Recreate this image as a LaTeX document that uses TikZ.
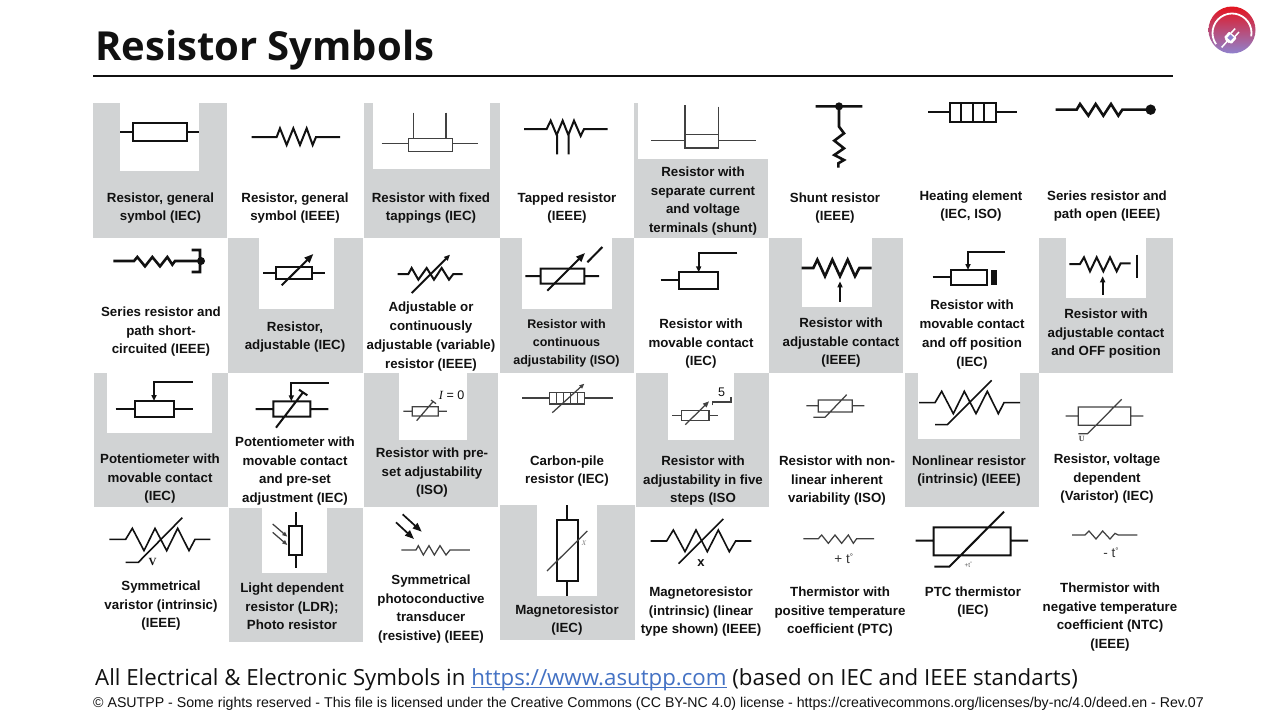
\documentclass[tikz,border=0pt]{standalone}
\usepackage{fontspec}
\setmainfont{Liberation Sans}
\newfontfamily\opensansfam{Open Sans}
\newfontfamily\serifam{Liberation Serif}
\usetikzlibrary{arrows.meta}
\definecolor{cellgray}{HTML}{D1D3D4}
\definecolor{linkblue}{HTML}{4472C4}
\definecolor{ink}{HTML}{111111}
\definecolor{logored}{HTML}{E4141F}
\definecolor{logomid}{HTML}{C5405C}
\definecolor{logolav}{HTML}{8F82CE}
\tikzset{
  z/.style 2 args={shift={(#1,#2)},x=.33333pt,y=-.33333pt},
  sym/.style={draw=ink,line width=2pt,line join=miter},
  thin sym/.style={draw=ink!80,line width=1.25pt,line join=miter},
  heavy/.style={draw=ink,line width=2.6pt,line join=miter},
  big tip/.style={-{Triangle[length=9pt,width=7pt]}},
  mid tip/.style={-{Triangle[length=6pt,width=5pt]}},
  small tip/.style={-{Triangle[length=5pt,width=4pt]}},
  captxt/.style={text=ink,align=center,inner sep=0pt,yshift=-3pt,
    font=\fontsize{13.3}{18.7}\selectfont\bfseries,
    execute at begin node=\strut,execute at end node=\strut},
  symtxt/.style={text=ink,inner sep=0pt}
}
\newcommand\capnode[5][]{\node[captxt,#1] (#2) at (#3,#4) {#5};}
\newcommand\cellbox[8]{%
  \fill[cellgray] (#1,#2) rectangle (#3,#4);
  \fill[white] (#5,#6) rectangle (#7,#8);}
\newcommand\ulink[1]{\setbox0\hbox{#1}\rlap{\rule[-3pt]{\wd0}{1.2pt}}\box0}
\begin{document}
\begin{tikzpicture}[x=1pt,y=-1pt]
\useasboundingbox (0,0) rectangle (1280,720);
\fill[white] (0,0) rectangle (1280,720);

% title
\node[anchor=west,inner sep=0pt,text=ink,font=\opensansfam\bfseries\fontsize{40}{46}\selectfont] (title) at (95,50) {Resistor Symbols};
\draw[line width=2pt,draw=ink] (93,76) -- (1173,76);

% logo
\shade[top color=logored,middle color=logomid,bottom color=logolav] (1232,30) circle[radius=23.5pt];
\begin{scope}[shift={(1232,33)},x=1pt,y=1pt]
  \draw[white,line width=1.8pt] (215:19.5) arc[start angle=215,end angle=-10,radius=19.5];
  \begin{scope}[shift={(-1,-4)},rotate=-42]
    \fill[white] (-4.5,0) -- (4.5,0) -- (4.5,2) -- (2.5,-6) -- (-2.5,-6) -- (-4.5,2) -- cycle;
    \fill[white,rounded corners=1pt] (-5,3) rectangle (5,-5);
    \draw[white,line width=1.5pt] (-2.6,3) -- (-2.6,9) (2.6,3) -- (2.6,9) (0,-5) -- (0,-14);
    \fill[logolav] (-2.2,1.5) rectangle (2.2,-3);
  \end{scope}
\end{scope}

% gray cells
\cellbox{93}{103}{227}{238}{120}{103}{199}{171}
\cellbox{364}{103}{500}{238}{373}{103}{490}{169}
\cellbox{634}{103}{768}{238}{638}{103}{768}{159}
\cellbox{228}{238}{363}{373}{259}{238}{334}{309}
\cellbox{500}{238}{634}{373}{522}{238}{612}{309}
\cellbox{769}{238}{903}{373}{802}{238}{872}{307}
\cellbox{1039}{238}{1173}{373}{1066}{238}{1146}{298}
\cellbox{94}{373}{228}{507}{107}{373}{212}{433}
\cellbox{364}{373}{498}{507}{399}{373}{467}{440}
\cellbox{636}{373}{769}{507}{668}{373}{734}{440}
\cellbox{905}{373}{1039}{507}{918}{373}{1020}{439}
\cellbox{229}{508}{363}{642}{262}{508}{327}{573}
\cellbox{500}{505}{635}{640}{537}{505}{597}{596}

% captions
\capnode{c11}{160.5}{206.5}{Resistor, general\\symbol (IEC)}
\capnode{c12}{295}{206.5}{Resistor, general\\symbol (IEEE)}
\capnode{c13}{431}{206.5}{Resistor with fixed\\tappings (IEC)}
\capnode{c14}{567}{206.5}{Tapped resistor\\(IEEE)}
\capnode{c15}{703}{199.5}{Resistor with\\separate current\\and voltage\\terminals (shunt)}
\capnode{c16}{835}{206.5}{Shunt resistor\\(IEEE)}
\capnode{c17}{971}{204.5}{Heating element\\(IEC, ISO)}
\capnode{c18}{1107}{204.5}{Series resistor and\\path open (IEEE)}
\capnode{c21}{161}{330}{Series resistor and\\path short-\\circuited (IEEE)}
\capnode{c22}{295}{335.5}{Resistor,\\adjustable (IEC)}
\capnode{c23}{431}{335}{Adjustable or\\continuously\\adjustable (variable)\\resistor (IEEE)}
\capnode[font=\fontsize{12.5}{18}\selectfont\bfseries]{c24}{566.5}{342}{Resistor with\\continuous\\adjustability (ISO)}
\capnode{c25}{701}{342}{Resistor with\\movable contact\\(IEC)}
\capnode{c26}{841}{341}{Resistor with\\adjustable contact\\(IEEE)}
\capnode{c27}{972}{333}{Resistor with\\movable contact\\and off position\\(IEC)}
\capnode{c28}{1106}{332}{Resistor with\\adjustable contact\\and OFF position}
\capnode{c31}{160}{477}{Potentiometer with\\movable contact\\(IEC)}
\capnode{c32}{295}{469.5}{Potentiometer with\\movable contact\\and pre-set\\adjustment (IEC)}
\capnode{c33}{432}{471}{Resistor with pre-\\set adjustability\\(ISO)}
\capnode{c34}{567}{469.5}{Carbon-pile\\resistor (IEC)}
\capnode{c35}{703}{479}{Resistor with\\adjustability in five\\steps (ISO}
\capnode{c36}{837}{479}{Resistor with non-\\linear inherent\\variability (ISO)}
\capnode{c37}{969}{469.5}{Nonlinear resistor\\(intrinsic) (IEEE)}
\capnode{c38}{1107}{477}{Resistor, voltage\\dependent\\(Varistor) (IEC)}
\capnode{c41}{161}{604}{Symmetrical\\varistor (intrinsic)\\(IEEE)}
\capnode{c42}{292}{606}{Light dependent\\resistor (LDR);\\Photo resistor}
\capnode{c43}{431}{607.5}{Symmetrical\\photoconductive\\transducer\\(resistive) (IEEE)}
\capnode{c44}{567}{618.5}{Magnetoresistor\\(IEC)}
\capnode{c45}{701}{610}{Magnetoresistor\\(intrinsic) (linear\\type shown) (IEEE)}
\capnode{c46}{840}{610}{Thermistor with\\positive temperature\\coefficient (PTC)}
\capnode{c47}{973}{600.5}{PTC thermistor\\(IEC)}
\capnode{c48}{1110}{615.5}{Thermistor with\\negative temperature\\coefficient (NTC)\\(IEEE)}

% footer
\node[anchor=west,inner sep=0pt,text=ink,font=\opensansfam\fontsize{22.25}{27}\selectfont] (foot1) at (95,679.5) {All Electrical \& Electronic Symbols in \textcolor{linkblue}{\ulink{https://www.asutpp.com}} (based on IEC and IEEE standarts)};
\node[anchor=west,inner sep=0pt,text=ink,font=\fontsize{14.17}{17}\selectfont] (foot2) at (93,704) {© ASUTPP - Some rights reserved - This file is licensed under the Creative Commons (CC BY-NC 4.0) license - https://creativecommons.org/licenses/by-nc/4.0/deed.en - Rev.07};

% row 1, left
\begin{scope}[z={90}{100}]
\draw[sym] (130,68) rectangle (290,122) (90,95) -- (130,95) (290,95) -- (328,95);
\draw[sym] (485,111) -- (560,111) -- (570,85) -- (590,135) -- (610,85) -- (630,135) -- (650,85) -- (668,135) -- (678,111) -- (750,111);
\draw[thin sym] (955,115) rectangle (1088,155) (875,131) -- (955,131) (1088,131) -- (1165,131) (971,38) -- (971,115) (1068,38) -- (1068,115);
\end{scope}
% row 1, middle
\begin{scope}[z={500}{100}]
\draw[sym] (72,87) -- (140,87) -- (152,62) -- (170,105) -- (188,62) -- (205,105) -- (222,62) -- (242,108) -- (252,87) -- (323,87) (171,105) -- (171,163) (206,105) -- (206,163);
\draw[thin sym] (555,103) rectangle (655,144) (453,122) -- (555,122) (655,122) -- (768,122) (555,15) -- (555,103) (655,20) -- (655,103);
\draw[heavy] (947,19) -- (1087,19) (1017,19) -- (1017,80) -- (1032,100) -- (1003,122) -- (1032,145) -- (1003,165) -- (1032,180) -- (1015,190) -- (1015,203);
\fill[ink] (1017,19) circle[radius=4pt];
\end{scope}
% row 1, right
\begin{scope}[z={900}{0}]
\draw[sym,line width=1.7pt] (150,309) rectangle (287,366) (184,309) -- (184,366) (218,309) -- (218,366) (252,309) -- (252,366) (85,337) -- (150,337) (287,337) -- (352,337);
\draw[heavy] (467,329) -- (530,329) -- (540,312) -- (565,347) -- (587,312) -- (610,347) -- (633,312) -- (655,347) -- (667,329) -- (750,329);
\fill[ink] (752,329) circle[radius=5.2pt];
\end{scope}

% row 2, left
\begin{scope}[z={90}{238}]
\draw[heavy] (70,69) -- (132,69) -- (142,57) -- (165,85) -- (187,57) -- (210,85) -- (232,57) -- (247,80) -- (255,69) -- (335,69) (305,36) -- (330,36) -- (330,102) -- (305,102);
\fill[ink] (333,69) circle[radius=4pt];
\draw[sym] (557,87) rectangle (667,123) (520,104) -- (557,104) (667,104) -- (705,104);
\draw[sym,big tip] (575,142) -- (670,48);
\draw[sym] (923,108) -- (955,108) -- (965,90) -- (985,125) -- (1010,90) -- (1032,125) -- (1055,90) -- (1077,125) -- (1090,108) -- (1118,108);
\draw[sym,mid tip] (965,165) -- (1080,50);
\end{scope}
% row 2, middle
\begin{scope}[z={500}{238}]
\draw[sym] (122,92) rectangle (253,137) (76,114) -- (122,114) (253,114) -- (297,114) (262,73) -- (307,27);
\draw[sym,big tip] (142,158) -- (255,45);
\draw[sym] (538,103) rectangle (655,152) (482,127) -- (538,127);
\draw[sym,mid tip] (712,45) -- (596,45) -- (596,103);
\draw[heavy] (905,90) -- (940,90) -- (952,65) -- (975,115) -- (997,65) -- (1020,115) -- (1043,65) -- (1065,115) -- (1078,90) -- (1115,90);
\draw[heavy,mid tip] (1020,192) -- (1020,130);
\end{scope}
% row 2, right
\begin{scope}[z={900}{238}]
\draw[sym] (152,96) rectangle (262,141) (98,118) -- (152,118);
\fill[ink] (272,96) rectangle (290,141);
\draw[sym,mid tip] (315,41) -- (204,41) -- (204,96);
\draw[sym] (508,78) -- (540,78) -- (552,58) -- (570,100) -- (590,58) -- (610,100) -- (630,58) -- (650,100) -- (662,76) -- (692,76);
\draw[heavy] (711,50) -- (711,120);
\draw[sym,mid tip] (608,170) -- (608,115);
\end{scope}

% row 3, left
\begin{scope}[z={90}{372}]
\draw[sym] (134,87) rectangle (251,136) (77,111) -- (134,111) (251,111) -- (308,111);
\draw[sym,mid tip] (308,30) -- (192,30) -- (192,87);
\draw[sym] (550,88) rectangle (661,134) (497,111) -- (550,111) (661,111) -- (715,111) (558,167) -- (640,60) (627,53) -- (652,70);
\draw[sym,mid tip] (716,33) -- (604,33) -- (604,88);
\draw[thin sym] (967,104) rectangle (1045,132) (940,118) -- (967,118) (1045,118) -- (1071,118) (980,146) -- (1030,88) (1023,84) -- (1038,95);
\node[symtxt,anchor=west,font=\fontsize{12.5}{14}\selectfont] (i0) at (1046,71) {{\serifam\itshape I} = 0};
\end{scope}
% row 3, middle
\begin{scope}[z={500}{372}]
\draw[thin sym] (149,61) rectangle (253,96) (170,61) -- (170,96) (190,61) -- (190,96) (211,61) -- (211,96) (232,61) -- (232,96) (66,78) -- (149,78) (253,78) -- (338,78);
\draw[thin sym,small tip] (157,122) -- (253,35);
\draw[thin sym] (544,116) rectangle (627,145) (516,130) -- (544,130) (627,130) -- (655,130) (638,100) -- (638,90) -- (693,90) -- (693,75);
\draw[thin sym,mid tip] (556,158) -- (627,88);
\node[symtxt,font=\fontsize{12.5}{14}\selectfont] (five) at (665,60) {5};
\draw[thin sym] (955,84) rectangle (1057,120) (919,101) -- (955,101) (1057,101) -- (1093,101) (940,136) -- (975,136) -- (1040,68);
\end{scope}
% row 3, right
\begin{scope}[z={900}{372}]
\draw[sym,line width=1.6pt] (57,92) -- (105,92) -- (125,58) -- (160,125) -- (193,58) -- (228,125) -- (262,58) -- (295,125) -- (312,92) -- (360,92) (105,158) -- (142,158) -- (275,25);
\draw[thin sym] (535,105) rectangle (692,160) (497,132) -- (535,132) (692,132) -- (730,132) (535,185) -- (563,185) -- (665,82);
\node[symtxt,font=\serifam\bfseries\fontsize{8}{9}\selectfont,text=ink!80] (uu) at (545,201) {U};
\end{scope}

% row 4, left
\begin{scope}[z={90}{505}]
\draw[sym,line width=1.6pt] (58,103) -- (107,103) -- (127,70) -- (162,137) -- (195,70) -- (230,137) -- (263,70) -- (297,137) -- (315,103) -- (361,103) (107,172) -- (145,172) -- (277,38);
\node[symtxt,font=\serifam\bfseries\fontsize{11}{12}\selectfont] (vv) at (188,172) {V};
\draw[sym,line width=1.7pt] (598,62) rectangle (635,149) (617,22) -- (617,62) (617,149) -- (617,190);
\draw[thin sym,small tip] (548,57) -- (592,95);
\draw[thin sym,small tip] (548,82) -- (592,120);
\draw[thin sym] (934,135) -- (978,135) -- (985,122) -- (1000,150) -- (1017,122) -- (1033,150) -- (1050,122) -- (1068,150) -- (1080,135) -- (1140,135);
\draw[sym,line width=1.7pt,big tip] (938,28) -- (995,80);
\draw[sym,line width=1.7pt,big tip] (918,52) -- (972,102);
\end{scope}
% row 4, middle
\begin{scope}[z={500}{505}]
\draw[sym,line width=1.7pt] (171,46) rectangle (233,228) (202,0) -- (202,46) (202,228) -- (202,272);
\draw[thin sym] (141,198) -- (262,78);
\node[symtxt,text=ink!55,font=\serifam\itshape\fontsize{7}{8}\selectfont] (xx) at (252,115) {X};
\draw[sym,line width=1.6pt] (452,108) -- (500,108) -- (520,75) -- (555,140) -- (588,75) -- (622,140) -- (655,75) -- (688,140) -- (707,108) -- (754,108) (536,176) -- (670,42);
\node[symtxt,font=\bfseries\fontsize{13}{14}\selectfont] (xb) at (603,173) {x};
\draw[thin sym] (910,101) -- (955,101) -- (965,90) -- (985,115) -- (1005,90) -- (1025,115) -- (1045,90) -- (1060,115) -- (1070,101) -- (1122,101);
\node[symtxt,text=ink!85,font=\fontsize{13.5}{15}\selectfont] (pt) at (1031,162) {+ t\raisebox{4pt}{\fontsize{8}{8}\selectfont °}};
\end{scope}
% row 4, right
\begin{scope}[z={900}{505}]
\draw[sym] (101,67) rectangle (332,151) (47,107) -- (101,107) (332,107) -- (384,107) (103,185) -- (148,185) -- (312,20);
\node[symtxt,text=ink!70,font=\fontsize{6.5}{7}\selectfont] (pts) at (205,180) {+t\raisebox{2pt}{\fontsize{5}{5}\selectfont °}};
\draw[thin sym] (516,90) -- (555,90) -- (567,78) -- (588,102) -- (608,78) -- (630,102) -- (645,85) -- (655,90) -- (712,90);
\node[symtxt,text=ink!85,font=\fontsize{13.5}{15}\selectfont] (mt) at (633,142) {- t\raisebox{4pt}{\fontsize{8}{8}\selectfont °}};
\end{scope}
\end{tikzpicture}
\end{document}
